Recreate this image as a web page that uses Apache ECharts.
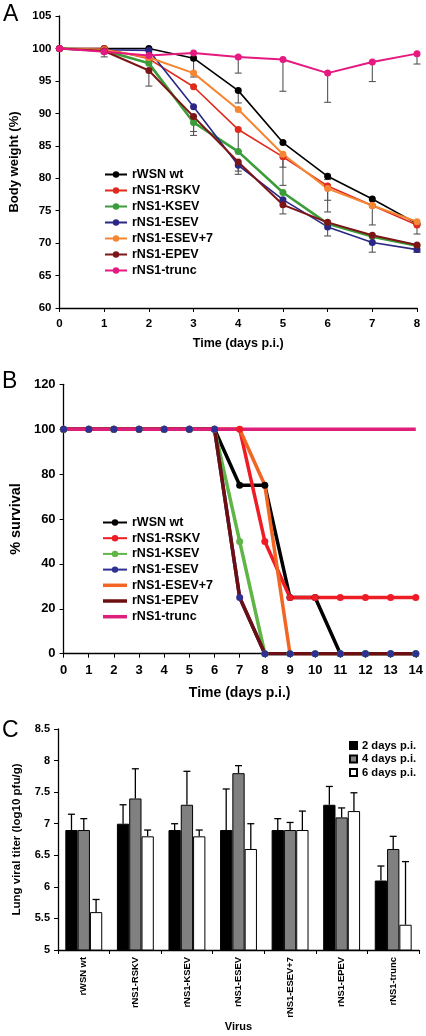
<!DOCTYPE html>
<html><head><meta charset="utf-8">
<script src="https://cdn.jsdelivr.net/npm/echarts@6/dist/echarts.min.js"></script>
<style>html,body{margin:0;padding:0;background:#fff}#c{width:426px;height:1036px}</style>
</head><body><div id="c"></div>
<script>
// ---------- DATA ----------
const virusNames = ['rWSN wt','rNS1-RSKV','rNS1-KSEV','rNS1-ESEV','rNS1-ESEV+7','rNS1-EPEV','rNS1-trunc'];

// Panel A: body weight (%)
const daysA = [0,1,2,3,4,5,6,7,8];
const weightWt    = [100,100,100,98.5,93.5,85.5,80.3,76.8,73.0];
const weightRskv  = [100,100,98.4,94.1,87.5,83.3,78.8,75.8,72.8];
const weightKsev  = [100,99.7,97.7,88.6,84.1,77.8,73.0,71.0,69.6];
const weightEsev  = [100,99.8,99.7,91.0,82.0,76.7,72.5,70.1,69.0];
const weightEsev7 = [100,99.8,98.6,96.2,90.6,83.7,78.4,75.8,73.3];
const weightEpev  = [100,99.6,96.6,89.5,82.5,75.9,73.2,71.2,69.7];
const weightTrunc = [100,99.5,98.9,99.3,98.7,98.3,96.2,97.9,99.2];
// lower error bar lengths
const errWt    = [0,0.8,0,2.9,1.9,0,0.5,0,1.6];
const errRskv  = [0,0,0,0,3.4,4.4,4.0,3.0,0];
const errKsev  = [0,0,0,2.0,0,0,0,0,0];
const errEsev  = [0,0,0,0,1.4,0,1.4,1.5,0.4];
const errEsev7 = [0,0,0,0,0,2.0,1.8,0,0];
const errEpev  = [0,0,2.4,2.3,1.4,1.4,0,0,1.1];
const errTrunc = [0,0.8,0,0,2.5,4.9,4.5,3.0,1.6];

// Panel B: % survival
const daysB = [0,1,2,3,4,5,6,7,8,9,10,11,12,13,14];
const survWt    = [100,100,100,100,100,100,100,75,75,25,25,0,0,0,0];
const survRskv  = [100,100,100,100,100,100,100,100,50,25,25,25,25,25,25];
const survKsev  = [100,100,100,100,100,100,100,50,0,0,0,0,0,0,0];
const survEsev  = [100,100,100,100,100,100,100,25,0,0,0,0,0,0,0];
const survEsev7 = [100,100,100,100,100,100,100,100,75,0,0,0,0,0,0];
const survEpev  = [100,100,100,100,100,100,100,25,0,0,0,0,0,0,0];
const survTrunc = [100,100,100,100,100,100,100,100,100,100,100,100,100,100,100];

// Panel C: lung viral titer
const timeNames = ['2 days p.i.','4 days p.i.','6 days p.i.'];
const titer2 = [6.9,7.0,6.9,6.9,6.9,7.3,6.1];
const titer4 = [6.9,7.4,7.3,7.8,6.9,7.1,6.6];
const titer6 = [5.6,6.8,6.8,6.6,6.9,7.2,5.4];
const sd2 = [0.25,0.3,0.1,0.65,0.18,0.29,0.23];
const sd4 = [0.18,0.47,0.53,0.12,0.12,0.15,0.2];
const sd6 = [0.2,0.1,0.1,0.4,0.3,0.29,1.0];

// ---------- STYLE ----------
const FONT = 'Liberation Sans';
const colorsA = ['#000000','#e02a1c','#3a9d3a','#2a2785','#f58634','#7d1518','#e5197f'];
const widthsA = [1.6,1.6,2.6,1.6,2.0,2.0,2.0];
const colorsB = ['#000000','#ee1c24','#5fb546','#2e3192','#f26522','#6d0f10','#dd1f7a'];
const markersB = [true,true,true,true,false,false,false];
const barColors = ['#000000','#808080','#ffffff'];

const weights = [weightWt,weightRskv,weightKsev,weightEsev,weightEsev7,weightEpev,weightTrunc];
const errs = [errWt,errRskv,errKsev,errEsev,errEsev7,errEpev,errTrunc];
const survs = [survWt,survRskv,survKsev,survEsev,survEsev7,survEpev,survTrunc];
const titers = [titer2,titer4,titer6];
const sds = [sd2,sd4,sd6];

const chart = echarts.init(document.getElementById('c'), null, {renderer:'canvas'});

function valAxis(o){
  return Object.assign({
    type:'value',
    axisLine:{show:true, onZero:false, lineStyle:{color:'#000', width:1.3}},
    axisTick:{show:true, length:4, lineStyle:{color:'#000', width:1}},
    axisLabel:{color:'#000', fontFamily:FONT, fontWeight:'bold', fontSize:11.5},
    splitLine:{show:false},
    nameLocation:'middle',
    nameTextStyle:{color:'#000', fontFamily:FONT, fontWeight:'bold', fontSize:13}
  }, o);
}

const series = [];
// Panel A error bars (below lines)
weights.forEach((w, i) => {
  const data = [];
  daysA.forEach((d, j) => { if (errs[i][j] > 0) data.push([d, w[j], errs[i][j]]); });
  series.push({
    type:'custom', name:'errA'+i, xAxisIndex:0, yAxisIndex:0, z:1, silent:true,
    encode:{x:0, y:1},
    data,
    renderItem(params, api){
      const x = api.value(0), v = api.value(1), e = api.value(2);
      const p1 = api.coord([x, v]), p2 = api.coord([x, v - e]);
      return {type:'group', children:[
        {type:'line', shape:{x1:p1[0], y1:p1[1], x2:p2[0], y2:p2[1]}, style:{stroke:'#555555', lineWidth:1.1}},
        {type:'line', shape:{x1:p2[0]-3.5, y1:p2[1], x2:p2[0]+3.5, y2:p2[1]}, style:{stroke:'#555555', lineWidth:1.1}}
      ]};
    }
  });
});
// Panel A lines
weights.forEach((w, i) => {
  series.push({
    type:'line', name:virusNames[i], xAxisIndex:0, yAxisIndex:0, z:3,
    data: daysA.map((d, j) => [d, w[j]]),
    symbol:'circle', symbolSize:7, showSymbol:true,
    color: colorsA[i],
    itemStyle:{color: colorsA[i]},
    lineStyle:{color: colorsA[i], width: widthsA[i]},
    emphasis:{disabled:true}, animation:false
  });
});
// Panel B lines
survs.forEach((s, i) => {
  series.push({
    type:'line', name:'B ' + virusNames[i], xAxisIndex:1, yAxisIndex:1, z:3,
    data: daysB.map((d, j) => [d, s[j]]),
    symbol: markersB[i] ? 'circle' : 'none', symbolSize:7, showSymbol:false,
    color: colorsB[i],
    itemStyle:{color: colorsB[i]},
    lineStyle:{color: colorsB[i], width:3.5},
    emphasis:{disabled:true}, animation:false
  });
});
// Panel B markers on top
survs.forEach((s, i) => {
  if (!markersB[i]) return;
  series.push({
    type:'scatter', name:'Bm ' + virusNames[i], xAxisIndex:1, yAxisIndex:1, z:5,
    data: daysB.map((d, j) => [d, s[j]]),
    symbol:'circle', symbolSize:7,
    itemStyle:{color: colorsB[i], opacity:1},
    emphasis:{disabled:true}, animation:false
  });
});
// Panel C bars
const BAR_W = 12.3;
titers.forEach((t, k) => {
  series.push({
    type:'bar', name: timeNames[k], xAxisIndex:2, yAxisIndex:2, z:3,
    data: t, barWidth: BAR_W, barGap:'0%',
    itemStyle:{color: barColors[k], borderColor:'#000', borderWidth:1},
    emphasis:{disabled:true}, animation:false
  });
});
// Panel C error bars
titers.forEach((t, k) => {
  series.push({
    type:'custom', name:'errC'+k, xAxisIndex:2, yAxisIndex:2, z:4, silent:true,
    encode:{x:0, y:1},
    data: t.map((v, j) => [j, v, sds[k][j]]),
    renderItem(params, api){
      const off = (k - 1) * BAR_W;
      const c = api.value(0), v = api.value(1), e = api.value(2);
      const p1 = api.coord([c, v]), p2 = api.coord([c, v + e]);
      const x = p1[0] + off;
      return {type:'group', children:[
        {type:'line', shape:{x1:x, y1:p1[1], x2:x, y2:p2[1]}, style:{stroke:'#000', lineWidth:1.3}},
        {type:'line', shape:{x1:x-3.5, y1:p2[1], x2:x+3.5, y2:p2[1]}, style:{stroke:'#000', lineWidth:1.3}}
      ]};
    }
  });
});

const lineIcon = 'path://M0,0H24V3.5H0Z';
const legendText = {color:'#000', fontFamily:FONT, fontWeight:'bold', fontSize:12.5};

chart.setOption({
  animation:false,
  textStyle:{fontFamily:FONT},
  grid:[
    {left:57, top:16, width:360, height:292},
    {left:57, top:384.3, width:360.7, height:269.4},
    {left:58, top:729, width:361, height:221}
  ],
  xAxis:[
    valAxis({gridIndex:0, min:0, max:8, interval:1, name:'Time (days p.i.)', nameGap:29.5,
      nameTextStyle:{color:'#000', fontFamily:FONT, fontWeight:'bold', fontSize:12.5},
      axisLabel:{color:'#000', fontFamily:FONT, fontWeight:'bold', fontSize:11.5, margin:10}}),
    valAxis({gridIndex:1, min:0, max:14, interval:1, name:'Time (days p.i.)', nameGap:32,
      nameTextStyle:{color:'#000', fontFamily:FONT, fontWeight:'bold', fontSize:14},
      axisLabel:{color:'#000', fontFamily:FONT, fontWeight:'bold', fontSize:13, margin:10}}),
    {type:'category', gridIndex:2, data: virusNames, boundaryGap:true,
      name:'Virus', nameLocation:'middle', nameGap:71,
      nameTextStyle:{color:'#000', fontFamily:FONT, fontWeight:'bold', fontSize:11},
      axisLine:{show:true, lineStyle:{color:'#000', width:1.3}},
      axisTick:{show:true, alignWithLabel:false, length:4, lineStyle:{color:'#000'}},
      axisLabel:{rotate:90, interval:0, margin:7, color:'#000', fontFamily:FONT, fontWeight:'bold', fontSize:9.4},
      splitLine:{show:false}}
  ],
  yAxis:[
    valAxis({gridIndex:0, min:60, max:105, interval:5, name:'Body weight (%)', nameGap:38.5,
      axisLabel:{color:'#000', fontFamily:FONT, fontWeight:'bold', fontSize:11.5, margin:8}}),
    valAxis({gridIndex:1, min:0, max:120, interval:20, name:'% survival', nameGap:36,
      nameTextStyle:{color:'#000', fontFamily:FONT, fontWeight:'bold', fontSize:14.5},
      axisLabel:{color:'#000', fontFamily:FONT, fontWeight:'bold', fontSize:13, margin:8}}),
    valAxis({gridIndex:2, min:5, max:8.5, interval:0.5, name:'Lung viral titer (log10 pfu/g)', nameGap:35,
      nameTextStyle:{color:'#000', fontFamily:FONT, fontWeight:'bold', fontSize:11.5},
      axisLabel:{color:'#000', fontFamily:FONT, fontWeight:'bold', fontSize:11, margin:8}})
  ],
  legend:[
    {orient:'vertical', left:99, top:163, itemWidth:22, itemHeight:8, itemGap:3,
      selectedMode:false, textStyle:legendText, data: virusNames.slice()},
    {orient:'vertical', left:97, top:511, itemWidth:24, itemHeight:8, itemGap:2.7,
      selectedMode:false, textStyle:legendText,
      formatter: n => n.slice(2),
      data: virusNames.map((n, i) => markersB[i] ? {name:'B ' + n} : {name:'B ' + n, icon: lineIcon})},
    {orient:'vertical', left:344, top:735, itemWidth:7, itemHeight:7, itemGap:2.5, icon:'rect',
      selectedMode:false, textStyle:{color:'#000', fontFamily:FONT, fontWeight:'bold', fontSize:11.2},
      data: timeNames.slice()}
  ],
  graphic:[
    {type:'text', left:3, top:3, style:{text:'A', fill:'#000', font:'23px "Liberation Sans"'}},
    {type:'text', left:2, top:370, style:{text:'B', fill:'#000', font:'23px "Liberation Sans"'}},
    {type:'text', left:2, top:719, style:{text:'C', fill:'#000', font:'23px "Liberation Sans"'}}
  ],
  series
});
</script></body></html>
